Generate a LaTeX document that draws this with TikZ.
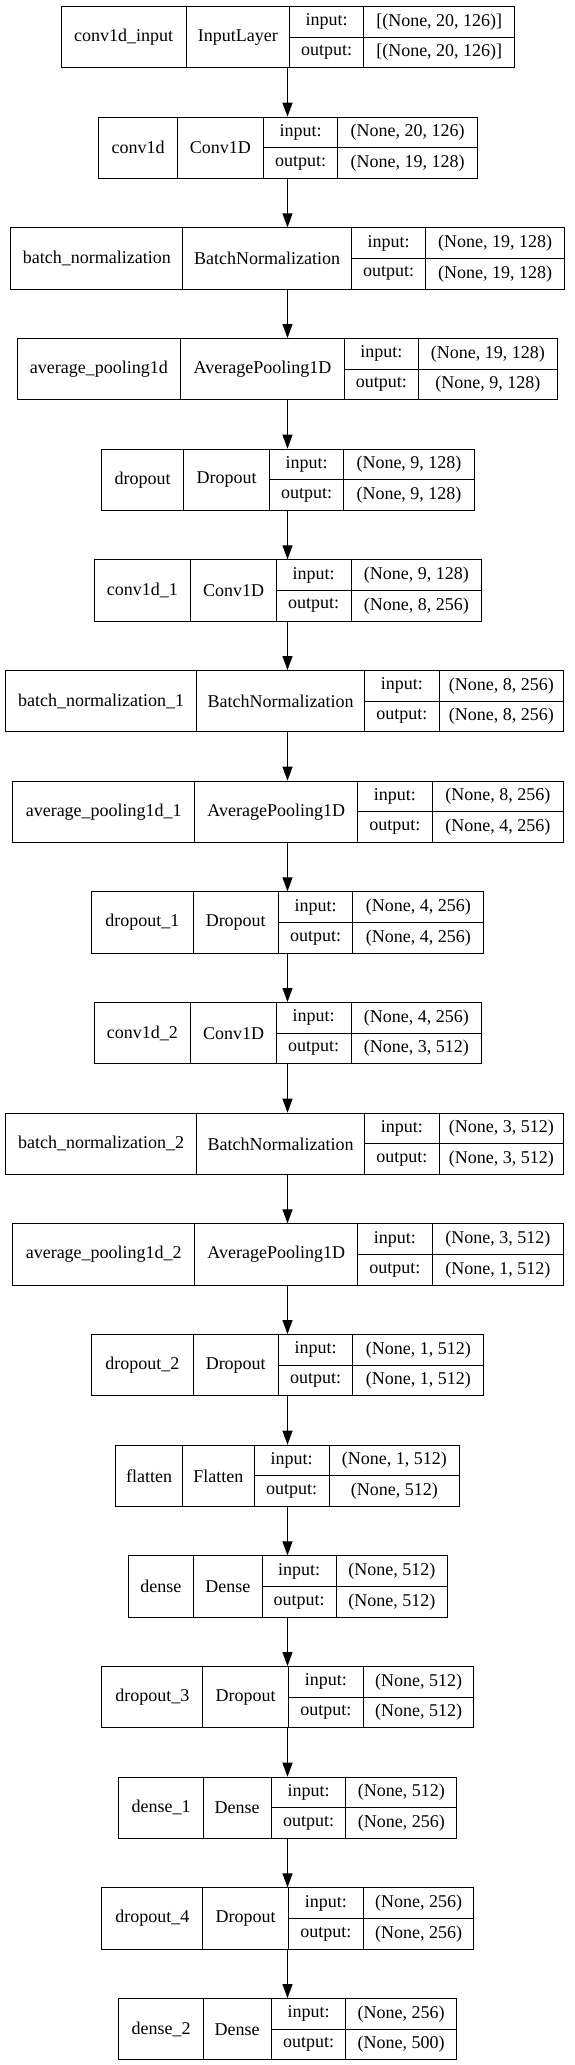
\documentclass[tikz,border=0pt]{standalone}
\usepackage{fontspec}
\setmainfont{Liberation Serif}
\usetikzlibrary{arrows.meta}
\tikzset{
  cell/.style={draw=black, line width=1pt, inner sep=0pt, anchor=north west,
    font=\fontsize{18}{21}\selectfont},
  outerbox/.style={inner sep=0pt, anchor=north west},
  arr/.style={draw=black, line width=1pt, -{Triangle[length=14pt,width=10pt]}},
}
\newcommand\layer[9]{\def\LId{#1}\def\LXa{#2}\def\LXb{#3}\def\LXc{#4}\def\LXd{#5}\def\LXe{#6}\def\LName{#7}\def\LClass{#8}\def\LIn{#9}\layerfinish}
\newcommand\layerfinish[1]{%
  \pgfmathsetmacro\LTop{6+\LId*110.67}%
  \pgfmathsetmacro\LMid{\LTop+30.65}%
  \node[outerbox, minimum width={(\LXe-\LXa)*1pt}, minimum height=61.3pt] (L\LId) at (\LXa,\LTop) {};
  \node[cell, minimum width={(\LXb-\LXa)*1pt}, minimum height=61.3pt] (L\LId-name) at (\LXa,\LTop) {\LName};
  \node[cell, minimum width={(\LXc-\LXb)*1pt}, minimum height=61.3pt] (L\LId-class) at (\LXb,\LTop) {\LClass};
  \node[cell, minimum width={(\LXd-\LXc)*1pt}, minimum height=30.65pt] (L\LId-inl) at (\LXc,\LTop) {input:};
  \node[cell, minimum width={(\LXe-\LXd)*1pt}, minimum height=30.65pt] (L\LId-inv) at (\LXd,\LTop) {\LIn};
  \node[cell, minimum width={(\LXd-\LXc)*1pt}, minimum height=30.65pt] (L\LId-outl) at (\LXc,\LMid) {output:};
  \node[cell, minimum width={(\LXe-\LXd)*1pt}, minimum height=30.65pt] (L\LId-outv) at (\LXd,\LMid) {#1};
}
\begin{document}
\begin{tikzpicture}[x=1pt,y=-1pt]
\fill[white] (0,0) rectangle (575,2065);
\useasboundingbox (0,0) rectangle (575,2065);
\coordinate (ax) at (287.5,0);
\layer{0}{60.5}{185.9}{288.6}{363.4}{514.1}{conv1d\_input}{InputLayer}{[(None, 20, 126)]}{[(None, 20, 126)]}
\layer{1}{98.3}{177.1}{262.6}{337.4}{476.7}{conv1d}{Conv1D}{(None, 20, 126)}{(None, 19, 128)}
\layer{2}{10.3}{182.3}{350.9}{425.4}{564.0}{batch\_normalization}{BatchNormalization}{(None, 19, 128)}{(None, 19, 128)}
\layer{3}{16.5}{180.4}{343.6}{418.0}{556.6}{average\_pooling1d}{AveragePooling1D}{(None, 19, 128)}{(None, 9, 128)}
\layer{4}{100.8}{183.3}{268.8}{343.2}{473.8}{dropout}{Dropout}{(None, 9, 128)}{(None, 9, 128)}
\layer{5}{93.5}{190.3}{275.8}{350.6}{481.1}{conv1d\_1}{Conv1D}{(None, 9, 128)}{(None, 8, 256)}
\layer{6}{5.1}{196.2}{364.1}{438.6}{563.2}{batch\_normalization\_1}{BatchNormalization}{(None, 8, 256)}{(None, 8, 256)}
\layer{7}{12.1}{194.4}{357.2}{431.6}{563.2}{average\_pooling1d\_1}{AveragePooling1D}{(None, 8, 256)}{(None, 4, 256)}
\layer{8}{91.3}{192.5}{278.0}{352.4}{483.3}{dropout\_1}{Dropout}{(None, 4, 256)}{(None, 4, 256)}
\layer{9}{93.5}{190.3}{275.8}{350.6}{481.1}{conv1d\_2}{Conv1D}{(None, 4, 256)}{(None, 3, 512)}
\layer{10}{5.1}{196.2}{364.1}{438.6}{563.2}{batch\_normalization\_2}{BatchNormalization}{(None, 3, 512)}{(None, 3, 512)}
\layer{11}{12.1}{194.4}{357.2}{431.6}{563.2}{average\_pooling1d\_2}{AveragePooling1D}{(None, 3, 512)}{(None, 1, 512)}
\layer{12}{91.3}{192.5}{278.0}{352.4}{483.3}{dropout\_2}{Dropout}{(None, 1, 512)}{(None, 1, 512)}
\layer{13}{115.1}{181.9}{253.8}{328.6}{459.1}{flatten}{Flatten}{(None, 1, 512)}{(None, 512)}
\layer{14}{127.6}{193.3}{261.5}{335.9}{447.0}{dense}{Dense}{(None, 512)}{(None, 512)}
\layer{15}{101.2}{202.4}{287.9}{362.7}{473.4}{dropout\_3}{Dropout}{(None, 512)}{(None, 512)}
\layer{16}{118.4}{202.8}{270.6}{345.4}{456.2}{dense\_1}{Dense}{(None, 512)}{(None, 256)}
\layer{17}{101.2}{202.4}{287.9}{362.7}{473.4}{dropout\_4}{Dropout}{(None, 256)}{(None, 256)}
\layer{18}{118.4}{202.8}{270.6}{345.4}{455.8}{dense\_2}{Dense}{(None, 256)}{(None, 500)}
\foreach \i [evaluate=\i as \j using int(\i+1)] in {0,...,17}
  \draw[arr] (L\i.south -| ax) -- (L\j.north -| ax);
\end{tikzpicture}
\end{document}
